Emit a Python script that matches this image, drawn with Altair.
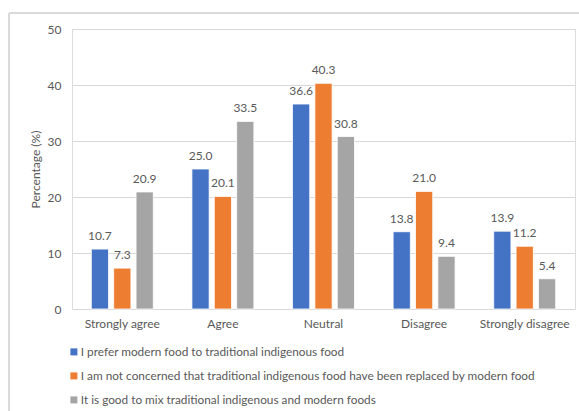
import altair as alt
import pandas as pd

categories = ["Strongly agree", "Agree", "Neutral", "Disagree", "Strongly disagree"]
series = [
    "I prefer modern food to traditional indigenous food",
    "I am not concerned that traditional indigenous food have been replaced by modern food",
    "It is good to mix traditional indigenous and modern foods",
]
values_modern = [10.7, 25.0, 36.6, 13.8, 13.9]
values_not_concerned = [7.3, 20.1, 40.3, 21.0, 11.2]
values_mix = [20.9, 33.5, 30.8, 9.4, 5.4]
colors = ["#4472C4", "#ED7D31", "#A5A5A5"]

rows = []
for s, vals in zip(series, [values_modern, values_not_concerned, values_mix]):
    for c, v in zip(categories, vals):
        rows.append({"category": c, "series": s, "value": v, "label": f"{v:.1f}"})
df = pd.DataFrame(rows)

FONT = "Lato"
FS = 12
TXT = "#595959"
W, H = 503, 280

base = alt.Chart(df).encode(
    x=alt.X("category:N", sort=categories,
            scale=alt.Scale(paddingInner=0.384, paddingOuter=0.192),
            axis=alt.Axis(title=None, labelAngle=0, labelFontSize=FS, labelColor=TXT,
                          labelFont=FONT, ticks=False, domain=False, labelPadding=9)),
    xOffset=alt.XOffset("series:N", sort=series,
                        scale=alt.Scale(paddingInner=0.23, paddingOuter=0)),
)

bars = base.mark_bar(stroke="white", strokeWidth=0.8).encode(
    y=alt.Y("value:Q", scale=alt.Scale(domain=[0, 50]),
            axis=alt.Axis(title="Percentage (%)", values=[0, 10, 20, 30, 40, 50],
                          titleFont=FONT, titleFontSize=FS, titleFontWeight="normal",
                          titleColor=TXT, titlePadding=5,
                          labelFont=FONT, labelFontSize=FS, labelColor=TXT,
                          labelPadding=11, ticks=False, domain=False,
                          gridColor="#D9D9D9", gridWidth=1)),
    color=alt.Color("series:N", sort=series,
                    scale=alt.Scale(domain=series, range=colors),
                    legend=alt.Legend(title=None, orient="none", legendX=-4, legendY=317,
                                      direction="vertical", symbolType="square",
                                      symbolSize=49, symbolStrokeWidth=0, padding=0,
                                      labelFont=FONT, labelFontSize=11.8, labelColor=TXT,
                                      labelLimit=600, labelOffset=1, rowPadding=11)),
)

labels = base.mark_text(baseline="bottom", dy=-6, font=FONT, fontSize=FS, color=TXT).encode(
    y="value:Q",
    text="label:N",
)

frame_top = alt.Chart(df).mark_rule(color="#D9D9D9", strokeWidth=1).encode(
    x=alt.value(-63), x2=alt.value(W + 20), y=alt.value(-16)
)
frame_left = alt.Chart(df).mark_rule(color="#D9D9D9", strokeWidth=1).encode(
    x=alt.value(-63), y=alt.value(-16), y2=alt.value(H + 150)
)

chart = alt.layer(frame_top, frame_left, bars, labels).properties(
    width=W, height=H,
    autosize=alt.AutoSizeParams(type="none"),
    padding={"left": 72, "top": 29, "right": 4, "bottom": 102},
).configure_view(stroke=None).configure(background="white")

chart.save("out.html", embed_options={"renderer": "svg", "actions": False})
